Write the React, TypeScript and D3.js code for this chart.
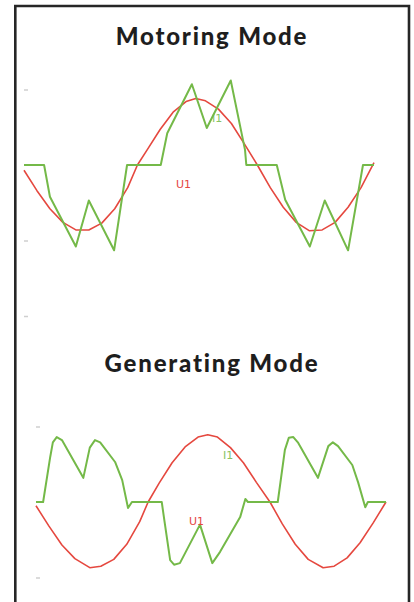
import React, { useEffect, useRef } from 'react';
import * as d3 from 'd3';

// phase angle in degrees, amplitude in tick units
const motorU1Angle = [0, 20, 40, 60, 80, 100, 120, 140, 160, 175, 190, 210, 230, 250, 265, 280, 300, 320, 340, 360, 380, 400, 420, 440, 460, 480, 500, 520, 540];
const motorU1Value = [-0.07, -0.34, -0.58, -0.76, -0.86, -0.86, -0.77, -0.58, -0.3, 0, 0.2, 0.47, 0.7, 0.84, 0.88, 0.85, 0.74, 0.55, 0.28, 0, -0.3, -0.56, -0.76, -0.87, -0.86, -0.76, -0.56, -0.3, 0.03];

const motorI1Angle = [0, 31, 40, 80, 100, 139, 159, 211, 221, 259, 282, 319, 341, 343, 390, 403, 441, 464, 500, 523, 540];
const motorI1Value = [0, 0, -0.42, -1.08, -0.47, -1.13, 0, 0, 0.42, 1.07, 0.49, 1.12, 0.2, 0, 0, -0.46, -1.08, -0.47, -1.13, 0, 0];

const genU1Angle = [0, 20, 40, 60, 83, 100, 120, 140, 160, 173, 190, 210, 230, 250, 265, 280, 300, 320, 340, 361, 380, 400, 420, 443, 460, 480, 500, 520, 540];
const genU1Value = [-0.05, -0.32, -0.57, -0.75, -0.87, -0.85, -0.76, -0.56, -0.26, 0, 0.25, 0.52, 0.73, 0.86, 0.89, 0.86, 0.72, 0.52, 0.26, 0, -0.29, -0.56, -0.76, -0.87, -0.85, -0.74, -0.54, -0.28, 0];

const genI1Angle = [0, 11, 22, 26, 32, 40, 73, 83, 91, 99, 122, 133, 142, 148, 194, 198, 207, 213, 222, 253, 272, 284, 315, 323, 327, 373, 384, 390, 397, 404, 435, 451, 458, 466, 488, 497, 508, 512, 540];
const genI1Value = [0, 0, 0.6, 0.79, 0.86, 0.82, 0.32, 0.72, 0.82, 0.79, 0.53, 0.29, -0.08, 0, 0, -0.24, -0.77, -0.83, -0.81, -0.3, -0.81, -0.66, -0.2, 0.04, 0, 0, 0.69, 0.85, 0.86, 0.79, 0.32, 0.74, 0.79, 0.74, 0.49, 0.26, -0.07, 0, 0];

const motorTicks = [1, -1, -2];
const genTicks = [1, -1];

const RED = '#e5483f';
const GREEN = '#74b948';

type Pt = [number, number];
const zip = (a: number[], b: number[]): Pt[] => a.map((v, i) => [v, b[i]]);

function Panel(props: {
  title: string; titleY: number; left: number; zeroY: number;
  u1: Pt[]; i1: Pt[]; ticks: number[];
  u1Label: [number, number]; i1Label: [number, number];
}) {
  const { title, titleY, left, zeroY, u1, i1, ticks, u1Label, i1Label } = props;
  const axisRef = useRef<SVGGElement>(null);

  const x = d3.scaleLinear().domain([0, 540]).range([left, left + 350]);
  const y = d3.scaleLinear().domain([-1, 1]).range([zeroY + 75.5, zeroY - 75.5]);
  const line = d3.line<Pt>().x(d => x(d[0])).y(d => y(d[1]));

  useEffect(() => {
    if (!axisRef.current) return;
    const g = d3.select(axisRef.current);
    g.call(d3.axisLeft(y).tickValues(ticks).tickSize(4).tickFormat(() => ''));
    g.select('.domain').remove();
    g.selectAll('line').attr('stroke', '#cfcfcf').attr('stroke-width', 1.5);
  }, []);

  return (
    <g>
      <text x={212} y={titleY} textAnchor="middle" fontFamily="Lato, 'Open Sans', sans-serif"
        fontWeight={900} fontSize={24} letterSpacing={1.8} fill="#1e1e1e"
        style={{ fontVariantLigatures: 'none' }}>{title}</text>
      <g ref={axisRef} transform={`translate(${left + 4},0)`} />
      <text x={i1Label[0]} y={i1Label[1]} fontFamily="Verdana, 'DejaVu Sans', sans-serif" fontSize={11}
        fill={GREEN} opacity={0.85}>I1</text>
      <path d={line(u1) || ''} fill="none" stroke={RED} strokeWidth={1.6} strokeLinejoin="round" />
      <path d={line(i1) || ''} fill="none" stroke={GREEN} strokeWidth={2} strokeLinejoin="round" />
      <text x={u1Label[0]} y={u1Label[1]} fontFamily="Verdana, 'DejaVu Sans', sans-serif" fontSize={11}
        fill={RED}>U1</text>
    </g>
  );
}

export default function App() {
  return (
    <div style={{ position: 'absolute', left: 0, top: 0 }}>
      <svg width={414} height={602} style={{ display: 'block', background: '#fff' }}>
        <path d="M15.3,602 V6 H409 V602" fill="none" stroke="#262626" strokeWidth={2.6} />
        <Panel title="Motoring Mode" titleY={45} left={24} zeroY={165}
          u1={zip(motorU1Angle, motorU1Value)} i1={zip(motorI1Angle, motorI1Value)}
          ticks={motorTicks} u1Label={[176, 188]} i1Label={[212, 122]} />
        <Panel title="Generating Mode" titleY={372} left={36} zeroY={502}
          u1={zip(genU1Angle, genU1Value)} i1={zip(genI1Angle, genI1Value)}
          ticks={genTicks} u1Label={[189, 525]} i1Label={[223, 459]} />
      </svg>
    </div>
  );
}
